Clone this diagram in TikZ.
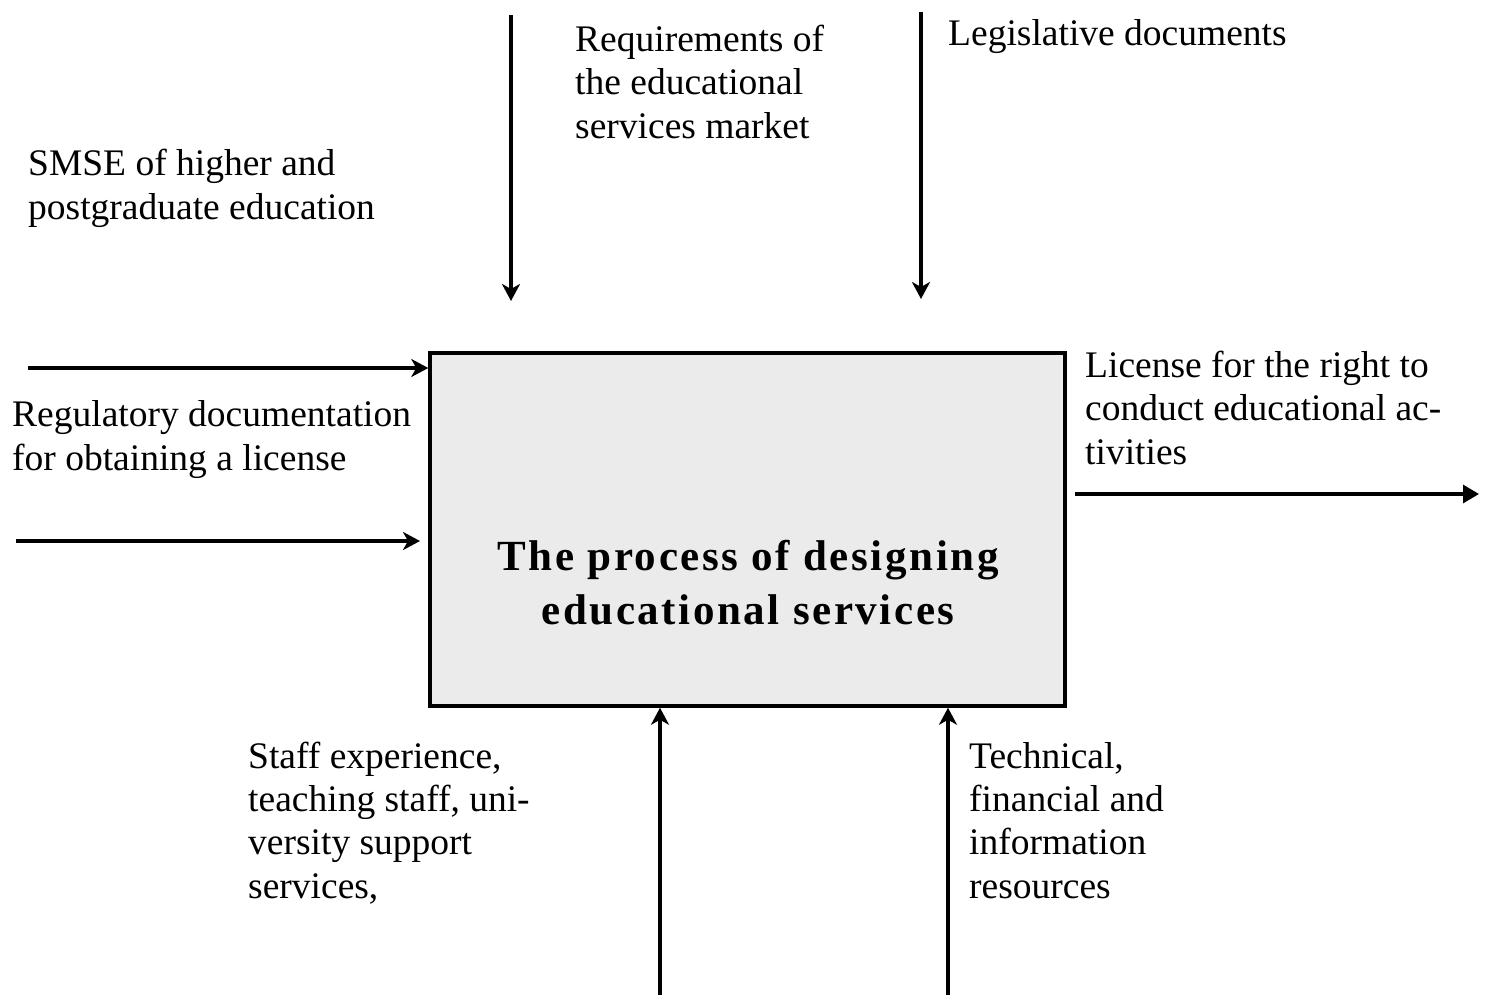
\documentclass[tikz,border=0pt]{standalone}
\usepackage{fontspec}
\setmainfont{Liberation Serif}
\usetikzlibrary{arrows.meta}
\begin{document}
\begin{tikzpicture}[x=1pt,y=-1pt,
  lbl/.style={anchor=base west,inner sep=0pt,align=left,font=\fontsize{37.5}{43.3}\selectfont},
  conn/.style={line width=3.2pt,-{Stealth[length=17pt,width=18pt,inset=5pt]}},
  outconn/.style={line width=3.2pt,-{Triangle[length=16pt,width=18pt]}},
  procbox/.style={draw,line width=3.5pt,fill=black!8,minimum width=635pt,minimum height=353pt,inner sep=0pt},
  title/.style={inner sep=0pt,align=center,
    font=\fontsize{43}{54}\selectfont\bfseries\addfontfeature{LetterSpace=6}}]
\useasboundingbox (0,0) rectangle (1494,1001);
\fill[white] (0,0) rectangle (1494,1001);
\node[procbox] (box) at (747.5,529.5) {};
\node[title] (ttl) at (748,583) {The process of designing\\educational services};
\node[lbl] (req) at (575,138) {Requirements of\\the educational\\services market};
\node[lbl] (leg) at (948,45) {Legislative documents};
\node[lbl] (smse) at (28,219) {SMSE of higher and\\postgraduate education};
\node[lbl] (reg) at (12,470) {Regulatory documentation\\for obtaining a license};
\node[lbl] (lic) at (1085,464) {License for the right to\\conduct educational ac-\\tivities};
\node[lbl] (staff) at (248,898) {Staff experience,\\teaching staff, uni-\\versity support\\services,};
\node[lbl] (tech) at (969,898) {Technical,\\financial and\\information\\resources};
\coordinate (t1s) at (511,15);  \coordinate (t1e) at (511,301);
\coordinate (t2s) at (921,12);  \coordinate (t2e) at (921,299);
\coordinate (l1s) at (28,368);  \coordinate (l1e) at (box.west |- 0,368);
\coordinate (l2s) at (16,541);  \coordinate (l2e) at (420,541);
\coordinate (rs) at (1075,494); \coordinate (re) at (1479,494);
\coordinate (b1s) at (660,995); \coordinate (b1e) at (box.south -| 660,0);
\coordinate (b2s) at (948,995); \coordinate (b2e) at (box.south -| 948,0);
\draw[conn] (t1s) -- (t1e);
\draw[conn] (t2s) -- (t2e);
\draw[conn] (l1s) -- (l1e);
\draw[conn] (l2s) -- (l2e);
\draw[outconn] (rs) -- (re);
\draw[conn] (b1s) -- (b1e);
\draw[conn] (b2s) -- (b2e);
\end{tikzpicture}
\end{document}
